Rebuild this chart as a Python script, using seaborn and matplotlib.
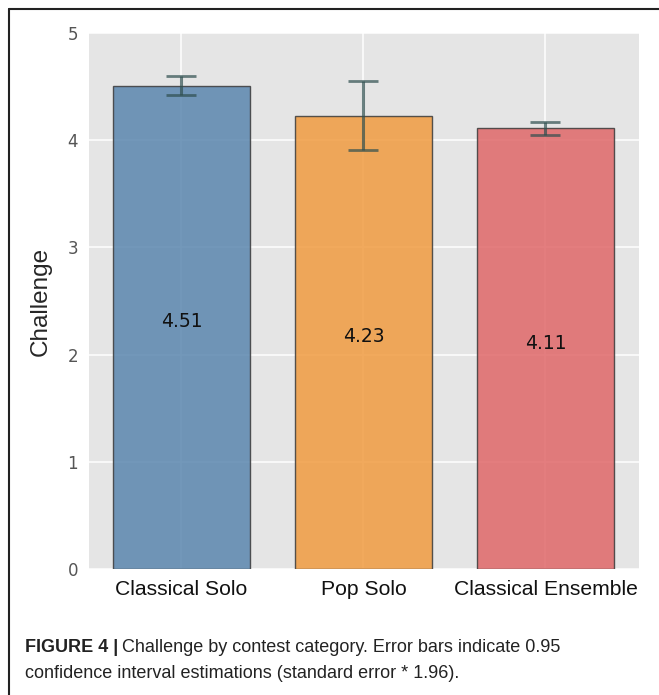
import numpy as np
import pandas as pd
import matplotlib
matplotlib.use("Agg")
import matplotlib.pyplot as plt
from matplotlib.lines import Line2D
import seaborn as sns

categories = ["Classical Solo", "Pop Solo", "Classical Ensemble"]
means = [4.51, 4.23, 4.11]
ci_half = [0.085, 0.32, 0.06]
bar_labels = ["4.51", "4.23", "4.11"]
colors = ["#5b86ae", "#f09b41", "#e06769"]

sns.set_style("darkgrid", {"axes.facecolor": "#e5e5e5", "grid.color": "white"})
plt.rcParams["font.family"] = ["DejaVu Sans"]

fig = plt.figure(figsize=(6.59, 6.95), dpi=100)
ax = fig.add_axes([89 / 659, 1 - 569 / 695, 550 / 659, 536 / 695])

df = pd.DataFrame({"category": categories, "value": means})
sns.barplot(data=df, x="category", y="value", hue="category", palette=colors,
            legend=False, errorbar=None, width=0.75, alpha=0.85, saturation=1,
            edgecolor="#3a3a3a", linewidth=1.0, ax=ax)

ax.grid(True, axis="both", color="white", linewidth=1.1)
ax.set_axisbelow(True)

pos = np.arange(len(categories))
ax.errorbar(pos, means, yerr=ci_half, fmt="none", ecolor="#2f4f4f",
            elinewidth=2.2, capsize=10.5, capthick=2.0, alpha=0.7, zorder=5)

for i, (v, lab) in enumerate(zip(means, bar_labels)):
    ax.text(i, v / 2, lab, ha="center", va="baseline", fontsize=13.5,
            color="#111111", zorder=6)

ax.set_ylim(0, 5)
ax.set_xlim(-0.508, 2.514)
ax.set_yticks([0, 1, 2, 3, 4, 5])
ax.tick_params(axis="y", labelsize=12, labelcolor="#555555", length=0, pad=8)
ax.tick_params(axis="x", labelsize=15.2, length=0, pad=8)
for t in ax.get_xticklabels():
    t.set_fontfamily("Liberation Sans")
    t.set_color("#111111")
ax.set_xlabel("")
ax.set_ylabel("Challenge", fontsize=17.5, family="Liberation Sans", labelpad=11)
for s in ax.spines.values():
    s.set_visible(False)

# frame lines
fig.add_artist(Line2D([8.5 / 659, 8.5 / 659], [1 - 9 / 695, 0], transform=fig.transFigure,
                      color="#222222", lw=1.5))
fig.add_artist(Line2D([8.5 / 659, 1], [1 - 9 / 695, 1 - 9 / 695], transform=fig.transFigure,
                      color="#222222", lw=1.5))

# caption
cap_fs = 13
fig.canvas.draw()
r = fig.canvas.get_renderer()
t1 = fig.text(25 / 659, 1 - 648 / 695, "FIGURE 4 |", fontsize=cap_fs, fontweight="bold",
              family="Liberation Sans", color="#222222", va="center")
bb = t1.get_window_extent(renderer=r)
x2 = (bb.x1 + 4) / fig.bbox.width
fig.text(x2, 1 - 648 / 695, "Challenge by contest category. Error bars indicate 0.95",
         fontsize=cap_fs, family="Liberation Sans", color="#222222", va="center")
fig.text(25 / 659, 1 - 673 / 695, "confidence interval estimations (standard error * 1.96).",
         fontsize=cap_fs, family="Liberation Sans", color="#222222", va="center")

fig.savefig("out.png", dpi=100)
